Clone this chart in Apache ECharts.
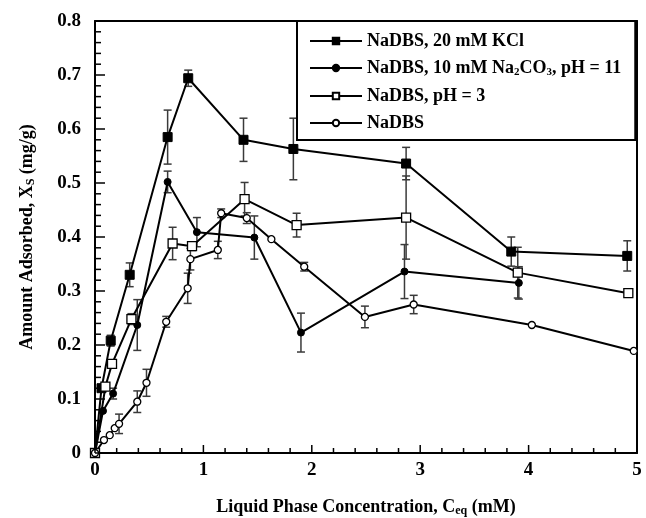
<!DOCTYPE html>
<html>
<head>
<meta charset="utf-8">
<script src="https://cdn.jsdelivr.net/npm/echarts@6/dist/echarts.min.js"></script>
<style>
  html, body { margin: 0; padding: 0; background: #fff; }
  #chart { width: 646px; height: 518px; }
</style>
</head>
<body>
<div id="chart"></div>
<script>
// NaDBS adsorption isotherms: x = liquid phase concentration (mM), y = amount adsorbed (mg/g)
const kclX   = [0, 0.06, 0.145, 0.32, 0.67, 0.86, 1.37, 1.83, 2.87, 3.84, 4.91];
const kclY   = [0, 0.120, 0.208, 0.330, 0.585, 0.694, 0.580, 0.563, 0.536, 0.373, 0.365];
const kclErr = [0, 0.005, 0.010, 0.022, 0.050, 0.015, 0.040, 0.057, 0.030, 0.027, 0.028];

const carbX   = [0, 0.074, 0.167, 0.39, 0.67, 0.94, 1.47, 1.90, 2.855, 3.91];
const carbY   = [0, 0.078, 0.110, 0.237, 0.502, 0.409, 0.399, 0.223, 0.336, 0.315];
const carbErr = [0, 0, 0.010, 0.047, 0.020, 0.027, 0.040, 0.036, 0.050, 0.030];

const ph3X   = [0, 0.096, 0.157, 0.336, 0.716, 0.895, 1.38, 1.86, 2.87, 3.90, 4.92];
const ph3Y   = [0, 0.123, 0.165, 0.248, 0.388, 0.383, 0.470, 0.422, 0.436, 0.334, 0.296];
const ph3Err = [0, 0, 0, 0.010, 0.030, 0.008, 0.031, 0.022, 0.077, 0.047, 0];

const dbsX   = [0, 0.083, 0.136, 0.182, 0.222, 0.39, 0.475, 0.657, 0.855, 0.88, 1.133, 1.164, 1.40, 1.627, 1.93, 2.49, 2.94, 4.03, 4.97];
const dbsY   = [0, 0.024, 0.033, 0.046, 0.054, 0.095, 0.130, 0.243, 0.305, 0.359, 0.376, 0.444, 0.435, 0.396, 0.345, 0.252, 0.275, 0.237, 0.189];
const dbsErr = [0, 0, 0, 0, 0.018, 0.020, 0.025, 0.010, 0.028, 0.020, 0.016, 0.008, 0.010, 0, 0.008, 0.020, 0.017, 0, 0];

const seriesNames = ['NaDBS, 20 mM KCl', 'NaDBS, 10 mM Na2CO3, pH = 11', 'NaDBS, pH = 3', 'NaDBS'];
const xTicks = [0, 1, 2, 3, 4, 5];
const yTicks = [0, 0.1, 0.2, 0.3, 0.4, 0.5, 0.6, 0.7, 0.8];
const minorSplit = 5;

const FONT = '"Liberation Serif", "Times New Roman", serif';

function pairs(xs, ys) { return xs.map((x, i) => [x, ys[i]]); }
function errData(xs, ys, es) {
  const out = [];
  xs.forEach((x, i) => { if (es[i] > 0) out.push([x, ys[i] - es[i], ys[i] + es[i]]); });
  return out;
}

// inward tick marks along the bottom and left axes: [x, y, kind]
// kind 0 = x major, 1 = x minor, 2 = y major, 3 = y minor
function tickData() {
  const out = [];
  function addAxis(ticks, isX) {
    ticks.forEach((t, i) => {
      out.push(isX ? [t, ticks[0] === undefined ? 0 : yTicks[0], 0] : [xTicks[0], t, 2]);
      if (i < ticks.length - 1) {
        const step = (ticks[i + 1] - t) / minorSplit;
        for (let k = 1; k < minorSplit; k++) {
          const v = t + step * k;
          out.push(isX ? [v, yTicks[0], 1] : [xTicks[0], v, 3]);
        }
      }
    });
  }
  addAxis(xTicks, true);
  addAxis(yTicks, false);
  return out;
}

function tickSeries() {
  return {
    type: 'custom',
    data: tickData(),
    silent: true,
    clip: false,
    z: 10,
    renderItem: function (params, api) {
      const kind = api.value(2);
      const p = api.coord([api.value(0), api.value(1)]);
      const st = { stroke: '#000', lineWidth: 1.5 };
      let shape;
      if (kind < 2) {
        const len = kind === 0 ? 8 : 5;
        shape = { x1: p[0], y1: p[1], x2: p[0], y2: p[1] - len };
      } else {
        const len = kind === 2 ? 10 : 6;
        shape = { x1: p[0], y1: p[1], x2: p[0] + len, y2: p[1] };
      }
      return { type: 'line', shape: shape, style: st };
    }
  };
}

function errorBarSeries(data) {
  return {
    type: 'custom',
    data: data,
    silent: true,
    renderItem: function (params, api) {
      const x = api.value(0);
      const lo = api.coord([x, api.value(1)]);
      const hi = api.coord([x, api.value(2)]);
      const cap = 4;
      const st = { stroke: '#3a3a3a', lineWidth: 1.5 };
      return {
        type: 'group',
        children: [
          { type: 'line', shape: { x1: lo[0], y1: lo[1], x2: hi[0], y2: hi[1] }, style: st },
          { type: 'line', shape: { x1: lo[0] - cap, y1: lo[1], x2: lo[0] + cap, y2: lo[1] }, style: st },
          { type: 'line', shape: { x1: hi[0] - cap, y1: hi[1], x2: hi[0] + cap, y2: hi[1] }, style: st }
        ]
      };
    }
  };
}

function lineSeries(name, data, symbol, size, filled) {
  return {
    type: 'line',
    name: name,
    data: data,
    symbol: symbol,
    symbolSize: size,
    showAllSymbol: true,
    lineStyle: { color: '#000', width: 2 },
    itemStyle: filled
      ? { color: '#000', borderColor: '#000', borderWidth: 1 }
      : { color: '#fff', borderColor: '#000', borderWidth: 1.3 }
  };
}

const chart = echarts.init(document.getElementById('chart'));

const subStyle = { fontFamily: FONT, fontWeight: 'bold', fontSize: 11, padding: [9, 0, 0, 0], color: '#000' };
const nameSub = { fontFamily: FONT, fontWeight: 'bold', fontSize: 12, padding: [8, 0, 0, 0], color: '#000' };

// plain frame axes closing the box on the top and right
function frameAxis(extra) {
  return Object.assign({
    type: 'value',
    axisLine: { show: true, onZero: false, lineStyle: { color: '#000', width: 2 } },
    axisTick: { show: false },
    minorTick: { show: false },
    axisLabel: { show: false },
    splitLine: { show: false }
  }, extra);
}

chart.setOption({
  animation: false,
  grid: { left: 95, right: 9, top: 21, bottom: 65, outerBoundsMode: 'none' },
  legend: {
    orient: 'vertical',
    left: 297, top: 21,
    padding: [11, 14, 8, 12],
    itemWidth: 52, itemHeight: 8, itemGap: 9,
    backgroundColor: '#fff',
    borderColor: '#000', borderWidth: 2,
    data: seriesNames,
    selectedMode: false,
    formatter: function (name) {
      if (name === seriesNames[1]) return 'NaDBS, 10 mM Na{s|2}CO{s|3}, pH = 11';
      return name;
    },
    textStyle: {
      fontFamily: FONT, fontWeight: 'bold', fontSize: 18, color: '#000',
      rich: { s: subStyle }
    }
  },
  xAxis: [{
    type: 'value',
    position: 'bottom',
    min: xTicks[0], max: xTicks[xTicks.length - 1], interval: 1,
    name: 'Liquid Phase Concentration, C{s|eq} (mM)',
    nameLocation: 'middle', nameGap: 44,
    nameTextStyle: {
      fontFamily: FONT, fontWeight: 'bold', fontSize: 18, color: '#000',
      rich: { s: nameSub }
    },
    axisLine: { show: true, onZero: false, lineStyle: { color: '#000', width: 2 } },
    axisTick: { show: false },
    splitLine: { show: false },
    axisLabel: { margin: 8, fontFamily: FONT, fontWeight: 'bold', fontSize: 19, color: '#000' }
  }, frameAxis({ position: 'top', min: 0, max: 5 })],
  yAxis: [{
    type: 'value',
    position: 'left',
    min: yTicks[0], max: yTicks[yTicks.length - 1], interval: 0.1,
    name: 'Amount Adsorbed, X{s|S} (mg/g)',
    nameLocation: 'middle', nameGap: 58, nameRotate: 90,
    nameTextStyle: {
      fontFamily: FONT, fontWeight: 'bold', fontSize: 18, color: '#000',
      rich: { s: nameSub }
    },
    axisLine: { show: true, onZero: false, lineStyle: { color: '#000', width: 2 } },
    axisTick: { show: false },
    splitLine: { show: false },
    axisLabel: {
      margin: 14, fontFamily: FONT, fontWeight: 'bold', fontSize: 19, color: '#000',
      formatter: v => (v === 0 ? '0' : v.toFixed(1))
    }
  }, frameAxis({ position: 'right', min: 0, max: 0.8 })],
  series: [
    tickSeries(),
    errorBarSeries(errData(kclX, kclY, kclErr)),
    errorBarSeries(errData(carbX, carbY, carbErr)),
    errorBarSeries(errData(ph3X, ph3Y, ph3Err)),
    errorBarSeries(errData(dbsX, dbsY, dbsErr)),
    lineSeries(seriesNames[0], pairs(kclX, kclY), 'rect', 9, true),
    lineSeries(seriesNames[1], pairs(carbX, carbY), 'circle', 7, true),
    lineSeries(seriesNames[2], pairs(ph3X, ph3Y), 'rect', 9, false),
    lineSeries(seriesNames[3], pairs(dbsX, dbsY), 'circle', 7, false)
  ]
});
</script>
</body>
</html>
